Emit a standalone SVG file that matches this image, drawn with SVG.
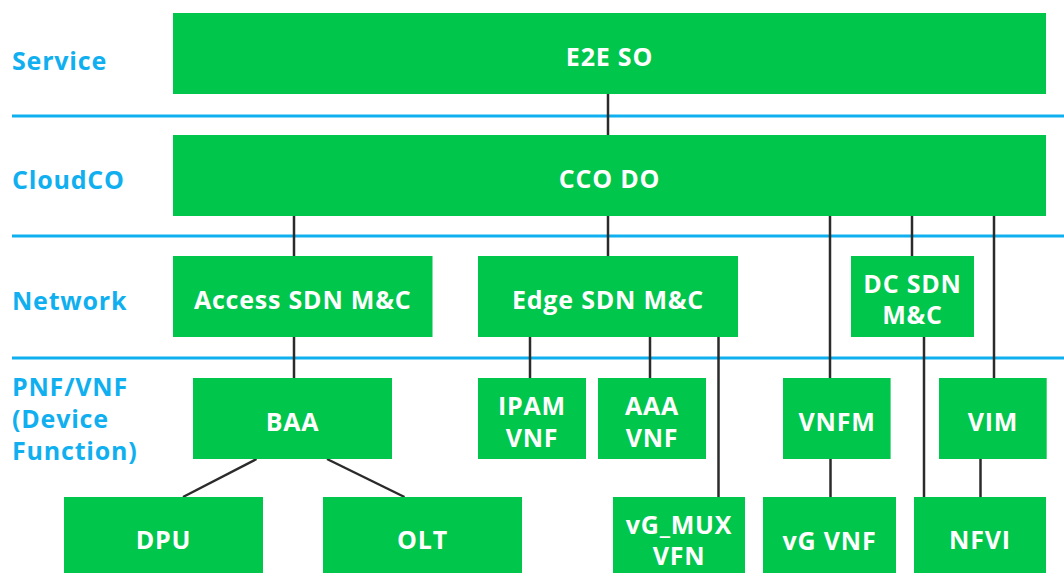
<svg xmlns="http://www.w3.org/2000/svg" width="1064" height="573" viewBox="0 0 1064 573">
<style>
.box{fill:#00c64b}
.t{font-family:"Open Sans","Liberation Sans",sans-serif;font-weight:700;font-size:25px;fill:#ffffff;text-anchor:middle;letter-spacing:0.8px}
.lbl{font-family:"Open Sans","Liberation Sans",sans-serif;font-weight:700;font-size:25px;fill:#10aff0;letter-spacing:0.8px}
.layer{stroke:#10aff0;stroke-width:3;fill:none}
.c{stroke:#2b2b2b;stroke-width:2.5;fill:none}
</style>
<rect width="1064" height="573" fill="#ffffff"/>
<g id="layers">
<line class="layer" x1="12" y1="116" x2="1064" y2="116"/>
<line class="layer" x1="12" y1="236" x2="1064" y2="236"/>
<line class="layer" x1="12" y1="358" x2="1064" y2="358"/>
<text class="lbl" x="12" y="70">Service</text>
<text class="lbl" x="12" y="189">CloudCO</text>
<text class="lbl" x="12" y="310">Network</text>
<text class="lbl" x="12" y="396">PNF/VNF</text>
<text class="lbl" x="12" y="428">(Device</text>
<text class="lbl" x="12" y="460">Function)</text>
</g>
<g id="connectors">
<line class="c" x1="608" y1="94" x2="608" y2="135"/>
<line class="c" x1="294" y1="216" x2="294" y2="256"/>
<line class="c" x1="608" y1="216" x2="608" y2="256"/>
<line class="c" x1="830" y1="216" x2="830" y2="378"/>
<line class="c" x1="912" y1="216" x2="912" y2="256"/>
<line class="c" x1="994" y1="216" x2="994" y2="378"/>
<line class="c" x1="294" y1="337" x2="294" y2="378"/>
<line class="c" x1="530" y1="337" x2="530" y2="378"/>
<line class="c" x1="650" y1="337" x2="650" y2="378"/>
<line class="c" x1="718.5" y1="337" x2="718.5" y2="497"/>
<line class="c" x1="924" y1="337" x2="924" y2="497"/>
<line class="c" x1="830.5" y1="459" x2="830.5" y2="497"/>
<line class="c" x1="980.5" y1="459" x2="980.5" y2="497"/>
<line class="c" x1="256.5" y1="459" x2="183" y2="497"/>
<line class="c" x1="327" y1="459" x2="404.5" y2="497"/>
</g>
<g id="e2e-so"><rect class="box" x="173" y="13" width="873" height="81"/><text class="t" x="609.5" y="66">E2E SO</text></g>
<g id="cco-do"><rect class="box" x="173" y="135" width="873" height="81"/><text class="t" x="609.5" y="188">CCO DO</text></g>
<g id="access-sdn"><rect class="box" x="173" y="256" width="259.5" height="81"/><text class="t" x="302.7" y="309">Access SDN M&amp;C</text></g>
<g id="edge-sdn"><rect class="box" x="478" y="256" width="260" height="81"/><text class="t" x="608" y="309">Edge SDN M&amp;C</text></g>
<g id="dc-sdn"><rect class="box" x="851" y="256" width="123" height="81"/><text class="t" x="912.5" y="293">DC SDN</text><text class="t" x="912.5" y="324">M&amp;C</text></g>
<g id="baa"><rect class="box" x="193" y="378" width="199" height="81"/><text class="t" x="292.5" y="431">BAA</text></g>
<g id="ipam-vnf"><rect class="box" x="478" y="378" width="108" height="81"/><text class="t" x="532" y="415">IPAM</text><text class="t" x="532" y="447">VNF</text></g>
<g id="aaa-vnf"><rect class="box" x="598" y="378" width="108" height="81"/><text class="t" x="652" y="415">AAA</text><text class="t" x="652" y="447">VNF</text></g>
<g id="vnfm"><rect class="box" x="783" y="378" width="107.6" height="81"/><text class="t" x="837" y="431">VNFM</text></g>
<g id="vim"><rect class="box" x="939" y="378" width="107.7" height="81"/><text class="t" x="993" y="431">VIM</text></g>
<g id="dpu"><rect class="box" x="64" y="497" width="199" height="76"/><text class="t" x="163.5" y="549">DPU</text></g>
<g id="olt"><rect class="box" x="323" y="497" width="199" height="76"/><text class="t" x="422.5" y="549">OLT</text></g>
<g id="vg-mux-vfn"><rect class="box" x="613" y="497" width="132" height="76"/><text class="t" x="679" y="534">vG_MUX</text><text class="t" x="679" y="565">VFN</text></g>
<g id="vg-vnf"><rect class="box" x="763" y="497" width="133" height="76"/><text class="t" x="829.5" y="550">vG VNF</text></g>
<g id="nfvi"><rect class="box" x="914" y="497" width="132" height="76"/><text class="t" x="980" y="549">NFVI</text></g>
</svg>
